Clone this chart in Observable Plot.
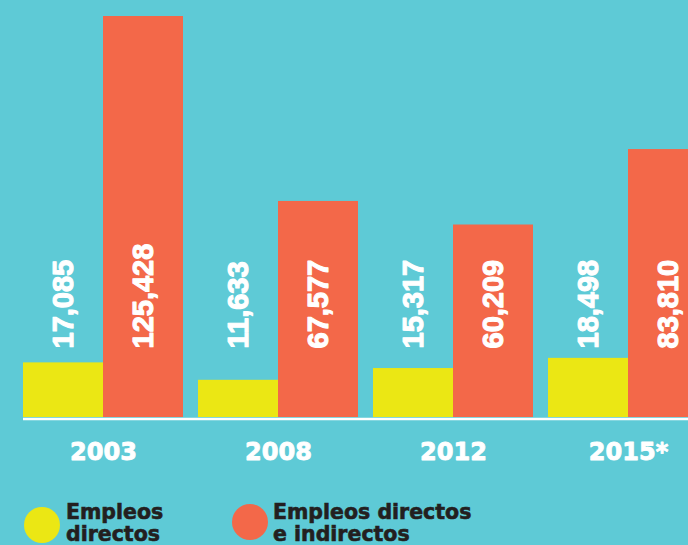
<!DOCTYPE html>
<html>
<head>
<meta charset="utf-8">
<script src="https://cdn.jsdelivr.net/npm/d3@7"></script>
<script src="https://cdn.jsdelivr.net/npm/@observablehq/plot@0.6"></script>
<style>
  html, body { margin: 0; padding: 0; background: #5ecad6; }
  #wrap { position: relative; width: 688px; height: 545px; overflow: hidden; background: #5ecad6; }
  #chart svg { display: block; overflow: visible; }
  g[aria-label="years"] text { letter-spacing: 2.5px; }
  .dot { position: absolute; width: 36px; height: 36px; border-radius: 50%; }
  .lab { position: absolute; font-family: "DejaVu Sans", sans-serif; font-weight: bold; font-size: 20.5px; line-height: 22px; color: #231f20; white-space: nowrap; -webkit-text-stroke: 0.6px #231f20; }
</style>
</head>
<body>
<div id="wrap">
  <div id="chart"></div>
  <div class="dot" style="left:24px; top:507px; background:#ebe714;"></div>
  <div class="lab" style="left:66px; top:501px;">Empleos<br>directos</div>
  <div class="dot" style="left:232px; top:504px; background:#f36849;"></div>
  <div class="lab" style="left:273px; top:501px;">Empleos directos<br>e indirectos</div>
</div>
<script>
const years = ["2003", "2008", "2012", "2015*"];
const directos = [17085, 11633, 15317, 18498];
const totales = [125428, 67577, 60209, 83810];

const colorDirectos = "#ebe714";
const colorTotales = "#f36849";

const data = years.map((year, i) => ({year, directos: directos[i], totales: totales[i]}));
const fmt = d3.format(",");

const valueStyle = {
  frameAnchor: "bottom", lineAnchor: "middle", rotate: -90, textAnchor: "start", dy: -69,
  fill: "white", stroke: "white", strokeWidth: 1.1, fontSize: 29, fontWeight: "bold",
  fontFamily: "Liberation Sans, Arial, sans-serif"
};

const plot = Plot.plot({
  width: 688,
  height: 490,
  marginLeft: 23,
  marginRight: -20,
  marginTop: 16,
  marginBottom: 73,
  style: {background: "transparent"},
  x: {domain: years, paddingInner: 15 / 175, paddingOuter: 0, axis: null},
  y: {domain: [0, d3.max(totales)], nice: false, axis: null},
  marks: [
    Plot.barY(data, {x: "year", y: "directos", fill: colorDirectos, insetRight: 80}),
    Plot.barY(data, {x: "year", y: "totales", fill: colorTotales, insetLeft: 80}),
    Plot.ruleY([0], {stroke: "white", strokeWidth: 2.5, dy: 1.5}),
    Plot.text(data, {...valueStyle, x: "year", text: d => fmt(d.directos), dx: -40}),
    Plot.text(data, {...valueStyle, x: "year", text: d => fmt(d.totales), dx: 40}),
    Plot.text(years, {
      x: d => d, frameAnchor: "bottom", lineAnchor: "middle", text: d => d, dy: 34.5,
      fill: "white", stroke: "white", strokeWidth: 0.9, fontSize: 24, fontWeight: "bold",
      fontFamily: "DejaVu Sans, sans-serif", ariaLabel: "years"
    })
  ]
});
document.getElementById("chart").appendChild(plot);
</script>
</body>
</html>
